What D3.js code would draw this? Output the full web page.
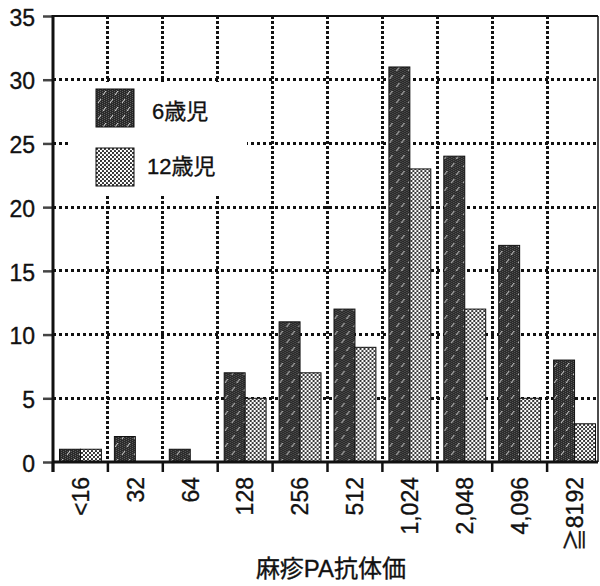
<!DOCTYPE html>
<html>
<head>
<meta charset="utf-8">
<script src="https://cdn.jsdelivr.net/npm/d3@7/dist/d3.min.js"></script>
<style>
  html, body { margin: 0; padding: 0; background: #fff; }
  svg { display: block; }
  text { font-family: "Liberation Sans", Arial, "Noto Sans CJK JP", sans-serif; fill: #111; stroke: #111; stroke-width: 0.35px; }
</style>
</head>
<body>
<svg id="chart" width="600" height="586"></svg>
<script>
// Titer classes and counts of children per class
const categories = ["<16", "32", "64", "128", "256", "512", "1,024", "2,048", "4,096", "≧8192"];
const age6 = [1, 2, 1, 7, 11, 12, 31, 24, 17, 8];
const age12 = [1, 0, 0, 5, 7, 9, 23, 12, 5, 3];
const seriesNames = ["6歳児", "12歳児"];
const yTicks = [0, 5, 10, 15, 20, 25, 30, 35];
const xTitle = "麻疹PA抗体価";

const svg = d3.select("#chart");
const plotL = 53, plotR = 598, plotT = 16, plotB = 462;

const x = d3.scaleBand().domain(categories).range([plotL, 602]).paddingInner(0).paddingOuter(0);
const xs = d3.scaleBand().domain(seriesNames).range([0, x.bandwidth()]).paddingInner(0).paddingOuter(0.31);
const y = d3.scaleLinear().domain([0, 35]).range([plotB, plotT]);

// fill patterns
const defs = svg.append("defs");
const pd = defs.append("pattern").attr("id", "darkFill").attr("patternUnits", "userSpaceOnUse")
  .attr("width", 12).attr("height", 16);
pd.append("rect").attr("width", 12).attr("height", 16).attr("fill", "#2a2a2a");
for (let i = 0; i < 12; i += 2) {
  for (let j = (i / 2) % 2; j < 16; j += 2) {
    pd.append("rect").attr("x", i).attr("y", j).attr("width", 1).attr("height", 1).attr("fill", "#5e5e5e");
  }
}
pd.append("line").attr("x1", 2).attr("y1", 7).attr("x2", 5).attr("y2", 3)
  .attr("stroke", "#ddd").attr("stroke-width", 1);
pd.append("line").attr("x1", 7).attr("y1", 15).attr("x2", 10).attr("y2", 11)
  .attr("stroke", "#ddd").attr("stroke-width", 1);

const pl = defs.append("pattern").attr("id", "lightFill").attr("patternUnits", "userSpaceOnUse")
  .attr("width", 4).attr("height", 4);
pl.append("rect").attr("width", 4).attr("height", 4).attr("fill", "#fff");
pl.append("circle").attr("cx", 1).attr("cy", 1).attr("r", 1.1).attr("fill", "#222");
pl.append("circle").attr("cx", 3).attr("cy", 3).attr("r", 1.1).attr("fill", "#222");

const fills = { "6歳児": "url(#darkFill)", "12歳児": "url(#lightFill)" };

// dotted grid
const grid = svg.append("g").attr("shape-rendering", "crispEdges");
grid.selectAll("line.h").data(yTicks.filter(v => v > 0 && v < 35)).join("line")
  .attr("x1", plotL).attr("x2", plotR)
  .attr("y1", d => y(d)).attr("y2", d => y(d))
  .attr("stroke", "#111").attr("stroke-width", 3).attr("stroke-dasharray", "3,3");
grid.selectAll("line.v").data(categories.slice(1)).join("line")
  .attr("x1", d => x(d)).attr("x2", d => x(d))
  .attr("y1", plotT).attr("y2", plotB)
  .attr("stroke", "#111").attr("stroke-width", 3).attr("stroke-dasharray", "3,2");

// frame top and right
svg.append("line").attr("x1", plotL).attr("x2", plotR).attr("y1", plotT).attr("y2", plotT)
  .attr("stroke", "#111").attr("stroke-width", 2);
svg.append("line").attr("x1", plotR).attr("x2", plotR).attr("y1", plotT).attr("y2", plotB)
  .attr("stroke", "#111").attr("stroke-width", 1.5);

// legend
const lg = svg.append("g");
lg.append("rect").attr("x", 70).attr("y", 82).attr("width", 177).attr("height", 114).attr("fill", "#fff");
seriesNames.forEach((s, i) => {
  lg.append("rect").attr("x", 96).attr("y", 89 + i * 59).attr("width", 38).attr("height", 38)
    .attr("fill", fills[s]).attr("stroke", "#111").attr("stroke-width", 1);
  lg.append("text").attr("x", i === 0 ? 152 : 147).attr("y", 119 + i * 55)
    .attr("font-size", 22).text(s);
});

// bars
const rows = categories.map((c, i) => ({ c, vals: [age6[i], age12[i]] }));
const groups = svg.append("g").selectAll("g").data(rows).join("g")
  .attr("transform", d => `translate(${x(d.c)},0)`);
groups.selectAll("rect").data(d => d.vals.map((v, k) => ({ s: seriesNames[k], v })).filter(e => e.v > 0)).join("rect")
  .attr("x", d => xs(d.s)).attr("width", xs.bandwidth())
  .attr("y", d => y(d.v)).attr("height", d => y(0) - y(d.v))
  .attr("fill", d => fills[d.s]).attr("stroke", "#111").attr("stroke-width", 1);

// y axis
const yAxis = svg.append("g").attr("transform", `translate(${plotL},0)`)
  .call(d3.axisLeft(y).tickValues(yTicks).tickSize(10).tickPadding(8));
yAxis.select(".domain").remove();
yAxis.selectAll(".tick line").attr("stroke", "#444").attr("stroke-width", 2.5);
yAxis.selectAll(".tick text").attr("font-size", 23).attr("font-family", "Liberation Sans, Arial, sans-serif")
  .attr("fill", "#111").attr("dy", "0.4em");
svg.append("line").attr("x1", plotL).attr("x2", plotL).attr("y1", plotT - 1).attr("y2", plotB + 10)
  .attr("stroke", "#111").attr("stroke-width", 3);

// x axis
svg.append("line").attr("x1", plotL).attr("x2", plotR).attr("y1", plotB).attr("y2", plotB)
  .attr("stroke", "#111").attr("stroke-width", 3);
svg.append("g").selectAll("line").data(categories).join("line")
  .attr("x1", d => x(d)).attr("x2", d => x(d))
  .attr("y1", plotB).attr("y2", plotB + 10)
  .attr("stroke", "#111").attr("stroke-width", 2.5);
const xAxis = svg.append("g").attr("transform", `translate(0,${plotB})`)
  .call(d3.axisBottom(x).tickSize(0));
xAxis.select(".domain").remove();
xAxis.selectAll(".tick text")
  .attr("transform", "rotate(-90)")
  .attr("x", -15).attr("y", 0).attr("dy", "0.36em")
  .attr("text-anchor", "end")
  .attr("font-size", 23).attr("font-family", "Liberation Sans, Arial, Noto Sans CJK JP, sans-serif")
  .attr("fill", "#111");

svg.append("text").attr("x", 331).attr("y", 577).attr("text-anchor", "middle")
  .attr("font-size", 24).text(xTitle);
</script>
</body>
</html>
